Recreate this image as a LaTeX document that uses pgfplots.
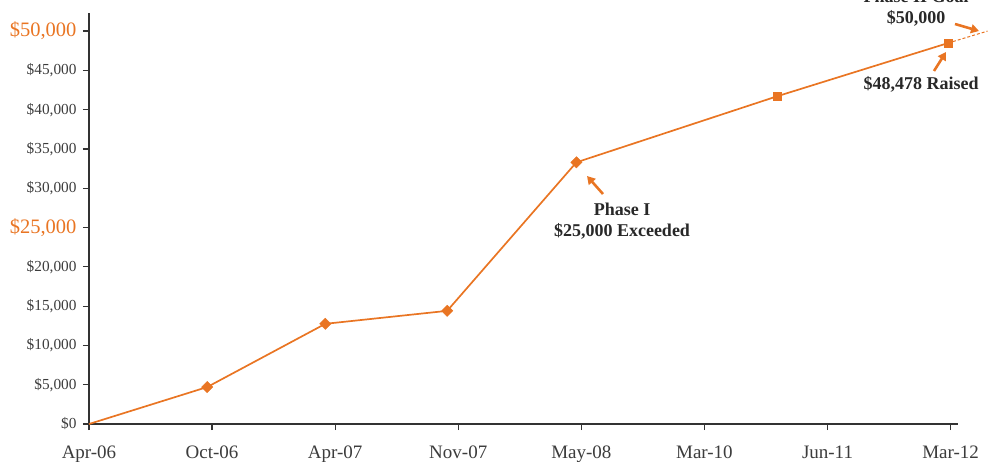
\documentclass[border=0pt]{standalone}
\usepackage{fontspec}
\setmainfont{Liberation Serif}
\usepackage{pgfplots}
\pgfplotsset{compat=1.18}
\usetikzlibrary{arrows.meta}
\definecolor{org}{RGB}{233,117,35}
\definecolor{txt}{RGB}{60,60,60}
\definecolor{anno}{RGB}{40,40,40}
\begin{document}
\begin{tikzpicture}[x=1pt,y=1pt]
\begin{axis}[
  at={(89pt,-424pt)}, anchor=south west,
  scale only axis, width=869pt, height=411pt,
  xmin=0, xmax=7.06, ymin=0, ymax=52300,
  scaled y ticks=false, scaled x ticks=false,
  axis x line=bottom, axis y line=left,
  axis line style={-, line width=1.3pt, color=black!80},
  tick align=outside, major tick length=6pt,
  tick style={line width=1.2pt, black!80},
  xtick={0,...,7},
  xticklabels={Apr-06,Oct-06,Apr-07,Nov-07,May-08,Mar-10,Jun-11,Mar-12},
  ytick={0,5000,...,50000},
  yticklabels={{\$0},{\$5,000},{\$10,000},{\$15,000},{\$20,000},
    {\textcolor{org}{\fontsize{20.5}{24}\selectfont\$25,000}},
    {\$30,000},{\$35,000},{\$40,000},{\$45,000},
    {\textcolor{org}{\fontsize{20.5}{24}\selectfont\$50,000}}},
  x tick label style={font=\fontsize{19}{22}\selectfont, text=txt, yshift=-12pt},
  y tick label style={font=\fontsize{15.3}{18}\selectfont, text=txt, xshift=-3pt},
  clip=false,
]
\addplot[org, line width=1.7pt] coordinates {(0,0)(0.96,4700)(1.92,12750)(2.91,14400)(3.96,33300)(5.59,41700)(6.98,48478)};
\addplot[org, only marks, mark=square*, mark size=4pt, mark options={rotate=45}] coordinates {(0.96,4700)(1.92,12750)(2.91,14400)(3.96,33300)};
\addplot[org, only marks, mark=square*, mark size=4pt] coordinates {(5.59,41700)(6.98,48478)};
\addplot[org, line width=1pt, dash pattern=on 3pt off 2pt] coordinates {(6.98,48478)(7.30,50000)};
\end{axis}
\node[align=center, text=anno, font=\bfseries\fontsize{18}{21}\selectfont] at (622,-221.5) {Phase I\\\$25,000 Exceeded};
\node[text=anno, font=\bfseries\fontsize{18}{21}\selectfont] at (921,-84) {\$48,478 Raised};
\node[align=center, text=anno, font=\bfseries\fontsize{18}{21}\selectfont] at (916,-8.5) {Phase II Goal\\\$50,000};
\draw[org, line width=2.6pt, -{Triangle[length=8pt,width=9pt]}] (603,-194) -- (587,-176);
\draw[org, line width=2.6pt, -{Triangle[length=8pt,width=9pt]}] (934,-71) -- (946,-52);
\draw[org, line width=2.6pt, -{Triangle[length=8pt,width=9pt]}] (955,-24) -- (979,-31);
\pgfresetboundingbox
\useasboundingbox (0,0) rectangle (988,-461);
\end{tikzpicture}
\end{document}
